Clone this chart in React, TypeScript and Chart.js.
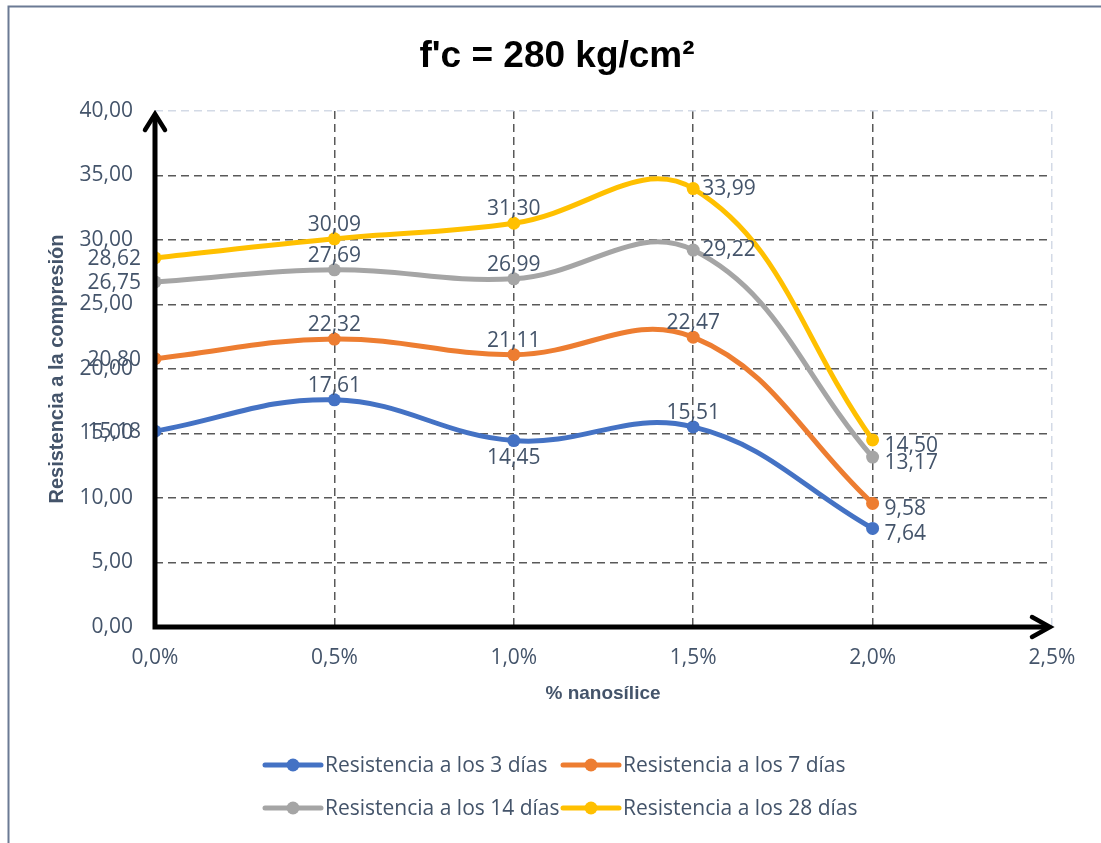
import React, { useEffect, useRef } from "react";
import { Chart, registerables } from "chart.js";

Chart.register(...registerables);

const nanosilice = [0.0, 0.5, 1.0, 1.5, 2.0];
const seriesNames = [
  "Resistencia a los 3 días",
  "Resistencia a los 7 días",
  "Resistencia a los 14 días",
  "Resistencia a los 28 días",
];
const dias3 = [15.18, 17.61, 14.45, 15.51, 7.64];
const dias7 = [20.8, 22.32, 21.11, 22.47, 9.58];
const dias14 = [26.75, 27.69, 26.99, 29.22, 13.17];
const dias28 = [28.62, 30.09, 31.3, 33.99, 14.5];
const seriesColors = ["#4472C4", "#ED7D31", "#A5A5A5", "#FFC000"];
// label placement per point: L=left, A=above, B=below, R=right, RB=right slightly below
const labelPlacement = [
  ["L", "A", "B", "A", "RB"],
  ["L", "A", "A", "A", "RB"],
  ["L", "A", "A", "R", "RB"],
  ["L", "A", "A", "R", "RB"],
];
const titleText = "f'c = 280 kg/cm²";
const xTitle = "% nanosílice";
const yTitle = "Resistencia a la compresión";

const TEXT = "#44546A";
const FONT = "'Open Sans', 'Noto Sans', sans-serif";
const BOLD = "'Liberation Sans', Arial, sans-serif";
const FS = 21;

const fmt = (v: number, d: number) => v.toFixed(d).replace(".", ",");

const decorPlugin = {
  id: "decor",
  beforeDraw(chart: any) {
    const ctx = chart.ctx;
    ctx.save();
    ctx.fillStyle = "#ffffff";
    ctx.fillRect(0, 0, chart.width, chart.height);
    ctx.strokeStyle = "#6B7A94";
    ctx.lineWidth = 2;
    ctx.beginPath();
    ctx.moveTo(8.5, chart.height + 2);
    ctx.lineTo(8.5, 6.5);
    ctx.lineTo(chart.width + 2, 6.5);
    ctx.stroke();
    ctx.restore();
  },
  afterDatasetsDraw(chart: any) {
    const ctx = chart.ctx;
    const { left, right, top, bottom } = chart.chartArea;
    ctx.save();
    // axes with arrows
    ctx.strokeStyle = "#000";
    ctx.lineWidth = 5;
    ctx.lineCap = "butt";
    ctx.beginPath();
    ctx.moveTo(left, bottom + 2.5);
    ctx.lineTo(left, top + 4);
    ctx.moveTo(left - 2.5, bottom);
    ctx.lineTo(right - 3, bottom);
    ctx.stroke();
    ctx.lineWidth = 4.5;
    ctx.lineCap = "round";
    ctx.lineJoin = "miter";
    ctx.beginPath();
    ctx.moveTo(left - 10, top + 19);
    ctx.lineTo(left, top + 3);
    ctx.lineTo(left + 10, top + 19);
    ctx.moveTo(right - 20, bottom - 10);
    ctx.lineTo(right - 2, bottom);
    ctx.lineTo(right - 20, bottom + 10);
    ctx.stroke();

    // data labels
    ctx.font = `${FS}px ${FONT}`;
    ctx.fillStyle = TEXT;
    chart.data.datasets.forEach((ds: any, di: number) => {
      const meta = chart.getDatasetMeta(di);
      meta.data.forEach((pt: any, i: number) => {
        const v = ds.data[i].y;
        const txt = fmt(v, 2);
        const p = labelPlacement[di][i];
        let x = pt.x, y = pt.y;
        ctx.textBaseline = "middle";
        if (p === "L") { ctx.textAlign = "right"; x -= 14; y += 1; }
        else if (p === "A") { ctx.textAlign = "center"; y -= 14; }
        else if (p === "B") { ctx.textAlign = "center"; y += 17; }
        else if (p === "R") { ctx.textAlign = "left"; x += 9; }
        else { ctx.textAlign = "left"; x += 12; y += 6; }
        ctx.fillText(txt, x, y);
      });
    });
    ctx.restore();
  },
  afterDraw(chart: any) {
    const ctx = chart.ctx;
    ctx.save();
    // title
    ctx.fillStyle = "#000";
    ctx.font = `bold 37px ${BOLD}`;
    ctx.textAlign = "center";
    ctx.textBaseline = "alphabetic";
    ctx.fillText(titleText, 557, 67);
    // axis titles
    ctx.fillStyle = TEXT;
    ctx.font = `bold 19px ${BOLD}`;
    ctx.textBaseline = "middle";
    ctx.fillText(xTitle, 603, 694);
    ctx.save();
    ctx.translate(57, 369);
    ctx.rotate(-Math.PI / 2);
    ctx.font = `bold 20px ${BOLD}`;
    ctx.fillText(yTitle, 0, 0);
    ctx.restore();
    // legend
    const cols = [265, 563];
    const rows = [765, 808];
    chart.data.datasets.forEach((ds: any, di: number) => {
      const x0 = cols[di % 2];
      const y0 = rows[Math.floor(di / 2)];
      ctx.strokeStyle = ds.borderColor;
      ctx.lineWidth = 5;
      ctx.lineCap = "round";
      ctx.beginPath();
      ctx.moveTo(x0, y0);
      ctx.lineTo(x0 + 56, y0);
      ctx.stroke();
      ctx.fillStyle = ds.borderColor;
      ctx.beginPath();
      ctx.arc(x0 + 28, y0, 6.5, 0, Math.PI * 2);
      ctx.fill();
      ctx.fillStyle = TEXT;
      ctx.font = `${FS}px ${FONT}`;
      ctx.textAlign = "left";
      ctx.textBaseline = "middle";
      ctx.fillText(ds.label, x0 + 60, y0 + 1);
    });
    ctx.restore();
  },
};

export default function App() {
  const ref = useRef<HTMLCanvasElement>(null);
  useEffect(() => {
    document.body.style.margin = "0";
    const all = [dias3, dias7, dias14, dias28];
    const chart = new Chart(ref.current!, {
      type: "line",
      data: {
        datasets: all.map((vals, di) => ({
          label: seriesNames[di],
          data: nanosilice.map((x, i) => ({ x, y: vals[i] })),
          borderColor: seriesColors[di],
          backgroundColor: seriesColors[di],
          pointBackgroundColor: seriesColors[di],
          pointBorderColor: seriesColors[di],
          pointRadius: 6.5,
          pointBorderWidth: 0,
          borderWidth: 5,
          tension: 0.4,
          fill: false,
          order: 3 - di,
        })),
      },
      options: {
        animation: false,
        responsive: false,
        layout: { padding: { left: 0, right: 49, top: 111, bottom: 0 } },
        plugins: { legend: { display: false }, title: { display: false }, tooltip: { enabled: false } },
        scales: {
          x: {
            type: "linear",
            min: 0,
            max: 2.5,
            afterFit: (s: any) => { s.height = 843 - 627; },
            ticks: {
              stepSize: 0.5,
              padding: 18,
              color: TEXT,
              font: { family: FONT, size: FS },
              callback: (v: any) => fmt(Number(v), 1) + "%",
            },
            grid: {
              drawTicks: false,
              lineWidth: 1.5,
              color: (c: any) => (c.tick && c.tick.value === 2.5 ? "#D3DAE6" : "#595959"),
            },
            border: { display: false, dash: [8, 5] },
          },
          y: {
            min: 0,
            max: 40,
            afterFit: (s: any) => { s.width = 155; },
            ticks: {
              stepSize: 5,
              padding: 22,
              color: TEXT,
              font: { family: FONT, size: FS },
              callback: (v: any) => fmt(Number(v), 2),
            },
            grid: {
              drawTicks: false,
              lineWidth: 1.5,
              color: (c: any) => (c.tick && c.tick.value === 40 ? "#D3DAE6" : "#595959"),
            },
            border: { display: false, dash: [8, 5] },
          },
        },
      },
      plugins: [decorPlugin],
    });
    return () => chart.destroy();
  }, []);
  return (
    <div style={{ width: 1101, height: 843 }}>
      <canvas ref={ref} width={1101} height={843} />
    </div>
  );
}
